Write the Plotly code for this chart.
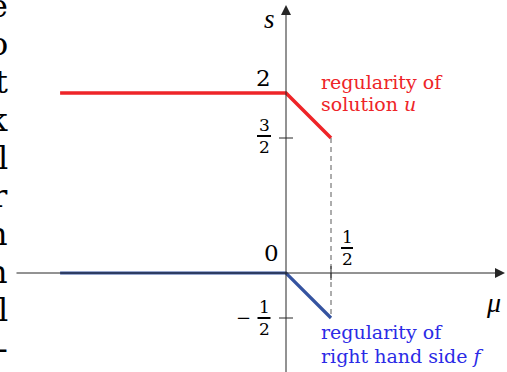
"""Regularity of solution and right hand side against mu."""

import plotly.graph_objects as go

# data
mu_u = [-2.51, 0.0, 0.5]
s_u = [2.0, 2.0, 1.5]
mu_f = [-2.51, 0.0, 0.5]
s_f = [0.0, 0.0, -0.5]

s_ticks = [1.5, -0.5]
mu_ticks = [0.5]

u_label = ["regularity of", "solution <i>u</i>"]
f_label = ["regularity of", "right hand side <i>f</i>"]

# clipped paragraph text from the page on the left edge
side_letters = ["e", "o", "t", "k", "l", "r", "n", "n", "l", "-"]

RED = "#ee2428"
BLUE_LINE = "#3553a0"
BLUE_TEXT = "#2b2be6"
AXIS = "#262626"
SERIF = "DejaVu Serif"
MATH = "Liberation Serif"

W, H = 507, 372
SCALE = 90.0  # pixels per unit
OX, OY = 286, 273  # origin in pixels


def px_x(p):
    return (p - OX) / SCALE


def px_y(p):
    return (OY - p) / SCALE


fig = go.Figure()

fig.add_trace(go.Scatter(x=mu_u, y=s_u, mode="lines", line=dict(color=RED, width=3.5)))
fig.add_trace(go.Scatter(x=mu_f, y=s_f, mode="lines", line=dict(color=BLUE_LINE, width=3.2)))
fig.add_trace(
    go.Scatter(
        x=[mu_u[-1], mu_f[-1]],
        y=[s_u[-1], s_f[-1]],
        mode="lines",
        line=dict(color="#5a5a5a", width=1, dash="5px,4px"),
    )
)

# axes with arrows
fig.add_annotation(x=px_x(505), y=0, ax=px_x(15), ay=0, xref="x", yref="y", axref="x", ayref="y",
                   text="", showarrow=True, arrowhead=2, arrowsize=2, arrowwidth=1, arrowcolor=AXIS, standoff=0)
fig.add_annotation(x=0, y=px_y(5), ax=0, ay=px_y(380), xref="x", yref="y", axref="x", ayref="y",
                   text="", showarrow=True, arrowhead=2, arrowsize=2, arrowwidth=1, arrowcolor=AXIS, standoff=0)

# tick marks
for t in s_ticks:
    fig.add_shape(type="line", xref="x", yref="y", xsizemode="pixel", xanchor=0, x0=-7, x1=7, y0=t, y1=t,
                  line=dict(color=AXIS, width=1))
for t in mu_ticks:
    fig.add_shape(type="line", xref="x", yref="y", ysizemode="pixel", yanchor=0, y0=-7, y1=7, x0=t, x1=t,
                  line=dict(color=AXIS, width=1))


def label(x, y, text, size, dx=0, dy=0, color="black", family=SERIF, anchor="center"):
    fig.add_annotation(x=x, y=y, text=text, showarrow=False, xshift=dx, yshift=dy, xanchor=anchor,
                       yanchor="middle", font=dict(family=family, size=size, color=color))


def fraction(x, y, num, den, dx, dy, width=14, size=17):
    label(x, y, num, size, dx, dy + 11)
    label(x, y, den, size, dx, dy - 11)
    fig.add_shape(type="line", xref="x", yref="y", xsizemode="pixel", ysizemode="pixel", xanchor=x, yanchor=y,
                  x0=dx - width / 2, x1=dx + width / 2, y0=dy, y1=dy, line=dict(color="black", width=2))


label(0, s_u[0], "2", 23, dx=-23, dy=15)
fraction(0, s_ticks[0], "3", "2", dx=-22, dy=2)
label(0, 0, "0", 23, dx=-15, dy=20)
fraction(mu_ticks[0], 0, "1", "2", dx=16, dy=25, width=12)
label(0, s_ticks[1], "\u2212", 18, dx=-43, dy=1)
fraction(0, s_ticks[1], "1", "2", dx=-22, dy=0, width=13)

label(0, px_y(19), "<i>s</i>", 27, dx=-17, family=MATH)
label(px_x(493), px_y(302), "<i>\u03bc</i>", 28, family=MATH)

for i, line in enumerate(u_label):
    label(px_x(319), px_y(82 + 22 * i), line, 19, color=RED, anchor="left")
for i, line in enumerate(f_label):
    label(px_x(319), px_y(332 + 24 * i), line, 19, color=BLUE_TEXT, anchor="left")

for i, ch in enumerate(side_letters):
    label(px_x(10), px_y(6 + 38 * i), ch, 32, anchor="right")

fig.update_layout(
    width=W,
    height=H,
    margin=dict(l=0, r=0, t=0, b=0),
    showlegend=False,
    plot_bgcolor="white",
    paper_bgcolor="white",
    xaxis=dict(range=[px_x(0), px_x(W)], visible=False, fixedrange=True),
    yaxis=dict(range=[px_y(H), px_y(0)], visible=False, fixedrange=True),
)

# the page body has a default 8px margin; drop it so the figure fills the window
fig.write_html(
    "out.html",
    config={"displayModeBar": False},
    post_script="document.body.style.margin = '0';",
)
